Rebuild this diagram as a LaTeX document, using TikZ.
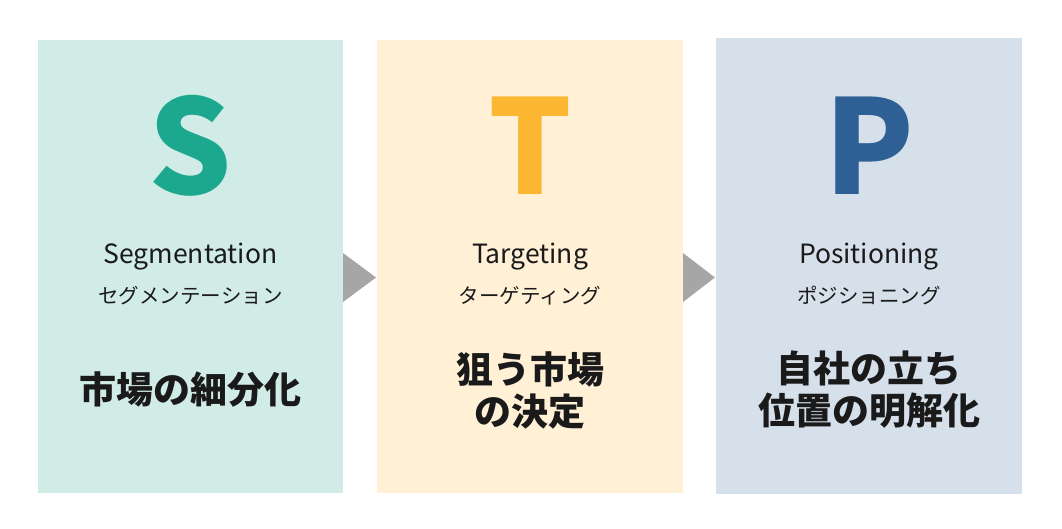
\documentclass[tikz,border=0pt]{standalone}
\usepackage{fontspec}
\setmainfont{Noto Sans CJK JP}
\usepackage{tikz}
\usetikzlibrary{calc}
\usetikzlibrary{positioning}

\definecolor{segbg}{HTML}{D1ECE6}
\definecolor{tgtbg}{HTML}{FFF0D6}
\definecolor{posbg}{HTML}{D6E0EA}
\definecolor{segfg}{HTML}{1BA88E}
\definecolor{tgtfg}{HTML}{FCB631}
\definecolor{posfg}{HTML}{2E6096}
\definecolor{chevgray}{HTML}{A6A6A6}
\definecolor{inkdark}{HTML}{1A1A1A}

\begin{document}
\begin{tikzpicture}[
  x=1pt, y=-1pt,
  panel/.style={draw=none, outer sep=0pt, inner sep=0pt,
                minimum width=306, minimum height=453},
  letter/.style={anchor=base, inner sep=0pt,
                 font=\fontsize{131}{131}\selectfont\bfseries},
  engname/.style={anchor=base, inner sep=0pt, color=inkdark,
                  font=\fontsize{26.5}{30}\selectfont},
  kananame/.style={anchor=base, inner sep=0pt, color=inkdark,
                   font=\fontsize{20.5}{24}\selectfont},
  mainlabel/.style={anchor=center, inner sep=0pt, color=inkdark, align=center,
                    font=\fontsize{37}{42}\selectfont\bfseries},
  chev/.style={fill=chevgray, draw=none},
]
\useasboundingbox (0,0) rectangle (1062,529);

%% ── Panneaux ────────────────────────────────────────────────────────────
\node[panel, fill=segbg, minimum width=305] (seg) at (190.5,266.5) {};
\node[panel, fill=tgtbg] (tgt) at (530,266.5) {};
\node[panel, fill=posbg, minimum height=456] (pos) at (869,266) {};

%% ── Flèches entre panneaux ──────────────────────────────────────────────
\fill[chev] ($(seg.east)+(0,-13.5)$) -- ($(tgt.west)+(-1,11)$)
  -- ($(seg.east)+(0,35.5)$) -- cycle;
\fill[chev] ($(tgt.east)+(0,-13.5)$) -- ($(pos.west)+(-1,11.5)$)
  -- ($(tgt.east)+(0,35.5)$) -- cycle;

%% ── S : Segmentation ────────────────────────────────────────────────────
\node[letter, color=segfg] (segS) at ($(seg.center)+(0,-71.5)$) {S};
\node[engname] (segEn) at ($(seg.center)+(0,-2.5)$) {Segmentation};
\node[kananame] (segKana) at ($(seg.center)+(0,36.5)$) {セグメンテーション};
\node[mainlabel] (segMain) at ($(seg.center)+(0,123.5)$) {市場の細分化};

%% ── T : Targeting ───────────────────────────────────────────────────────
\node[letter, color=tgtfg] (tgtT) at ($(tgt.center)+(0,-71.5)$) {T};
\node[engname] (tgtEn) at ($(tgt.center)+(0,-2.5)$) {Targeting};
\node[kananame] (tgtKana) at ($(tgt.center)+(0,36.5)$) {ターゲティング};
\node[mainlabel] (tgtMain) at ($(tgt.center)+(0,123.5)$) {狙う市場\\の決定};

%% ── P : Positioning ─────────────────────────────────────────────────────
\node[letter, color=posfg] (posP) at ($(pos.center)+(0,-71)$) {P};
\node[engname] (posEn) at ($(pos.center)+(0,-2)$) {Positioning};
\node[kananame] (posKana) at ($(pos.center)+(0,37)$) {ポジショニング};
\node[mainlabel] (posMain) at ($(pos.center)+(0,124)$) {自社の立ち\\位置の明解化};

\end{tikzpicture}
\end{document}
